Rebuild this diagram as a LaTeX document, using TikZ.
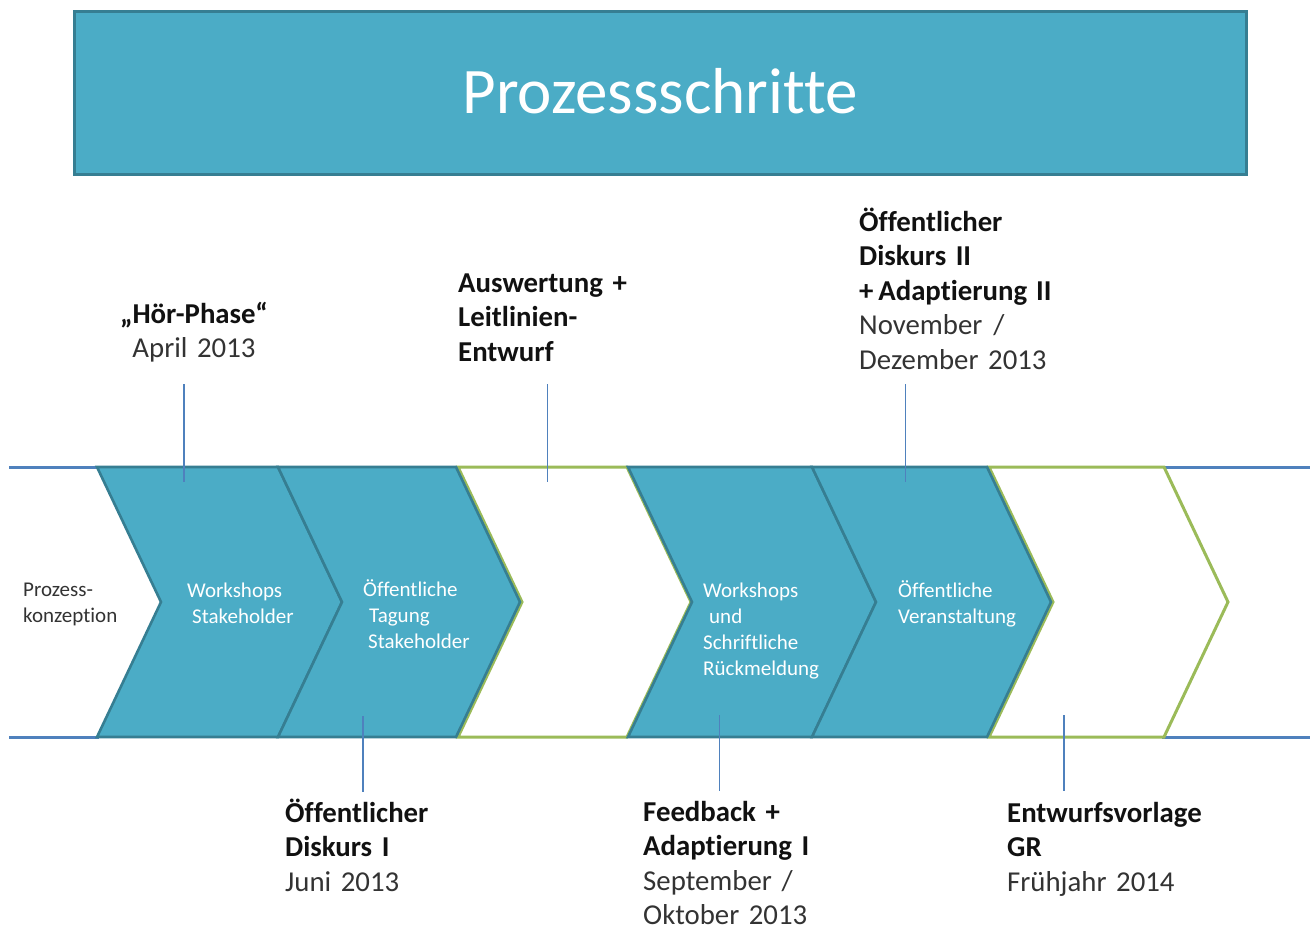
\documentclass[tikz,border=0pt]{standalone}
\usepackage{fontspec}
\setmainfont{Carlito}[Ligatures={NoCommon}]
\definecolor{tealfill}{HTML}{4BACC6}
\definecolor{tealdark}{HTML}{367E92}
\definecolor{lineblue}{HTML}{4F81BD}
\definecolor{cgreen}{HTML}{9BBB59}
\definecolor{txtbold}{HTML}{111111}
\definecolor{txtreg}{HTML}{333333}
\begin{document}
\begin{tikzpicture}[x=1pt,y=-1pt,
  chev/.style={fill=tealfill, draw=tealdark, line width=2.6pt, line join=miter},
  gchev/.style={fill=white, draw=cgreen, line width=3pt, line join=miter},
  hline/.style={draw=lineblue, line width=3pt},
  vline/.style={draw=lineblue, line width=1.4pt},
  big/.style={font=\fontsize{28.8}{34.5}\selectfont, text=txtreg, inner sep=0pt, text width=300pt, align=left, anchor=base west},
  small/.style={font=\fontsize{21}{26}\selectfont, inner sep=0pt, text width=200pt, align=left, anchor=base west},
]
\useasboundingbox (0,0) rectangle (1316,929);

% title
\node[draw=tealdark, fill=tealfill, line width=3pt, minimum width=1172pt, minimum height=163pt, inner sep=0pt] (title) at (660,92.5) {};
\node[font=\fontsize{65}{72}\selectfont, text=white, anchor=base, inner sep=0pt] (titletext) at (660,113) {Prozessschritte};

% blue lines
\draw[hline] (9,467) -- (99,467);
\draw[hline] (9,737) -- (99,737);
\draw[hline] (1162,467) -- (1310,467);
\draw[hline] (1162,737) -- (1310,737);

% green chevrons
\draw[gchev] (458,467) -- (627,467) -- (691,602) -- (627,737) -- (458,737) -- (522,602) -- cycle;
\draw[gchev] (989,467) -- (1164,467) -- (1228,602) -- (1164,737) -- (989,737) -- (1053,602) -- cycle;

% teal chevrons
\draw[chev] (97,467) -- (278,467) -- (342,602) -- (278,737) -- (97,737) -- (161,602) -- cycle;
\draw[chev] (278,467) -- (456,467) -- (520,602) -- (456,737) -- (278,737) -- (342,602) -- cycle;
\draw[chev] (628,467) -- (812,467) -- (876,602) -- (812,737) -- (628,737) -- (692,602) -- cycle;
\draw[chev] (812,467) -- (987,467) -- (1051,602) -- (987,737) -- (812,737) -- (876,602) -- cycle;

% chevron texts
\node[small, text=txtreg] (c0) at (23,596) {Prozess-\\konzeption};
\node[small, text=white] (c1) at (187,597) {Workshops\\\hspace*{5pt}Stakeholder};
\node[small, text=white] (c2) at (363,596) {Öffentliche\\\hspace*{6pt}Tagung\\\hspace*{5pt}Stakeholder};
\node[small, text=white] (c3) at (703,597) {Workshops\\\hspace*{6pt}und\\Schriftliche\\Rückmeldung};
\node[small, text=white] (c4) at (898,597) {Öffentliche\\Veranstaltung};

% labels
\node[big, align=center, anchor=base, text width=260pt] (hoer) at (194,323) {{\bfseries\color{txtbold}„Hör-Phase“}\\April 2013};
\node[big] (ausw) at (458,292) {{\bfseries\color{txtbold}Auswertung +\\Leitlinien-\\Entwurf}};
\node[big] (disk2) at (859,231) {{\bfseries\color{txtbold}Öffentlicher\\Diskurs II\\+\,Adaptierung\hspace{9pt}II}\\November\hspace{11pt}/\\Dezember 2013};
\node[big] (disk1) at (285,822) {{\bfseries\color{txtbold}Öffentlicher\\Diskurs I}\\Juni 2013};
\node[big] (feed) at (643,821) {{\bfseries\color{txtbold}Feedback +\\Adaptierung\ I}\\September /\\Oktober 2013};
\node[big] (entw) at (1007,822) {{\bfseries\color{txtbold}Entwurfsvorlage\\GR}\\Frühjahr 2014};

% connector coordinates
\coordinate (hoerA) at (184,384);  \coordinate (hoerB) at (184,482);
\coordinate (auswA) at (547.5,384); \coordinate (auswB) at (547.5,482);
\coordinate (disk2A) at (905.5,384); \coordinate (disk2B) at (905.5,482);
\coordinate (disk1A) at (363,716); \coordinate (disk1B) at (363,792);
\coordinate (feedA) at (719.5,715); \coordinate (feedB) at (719.5,791);
\coordinate (entwA) at (1064,715); \coordinate (entwB) at (1064,791);

\draw[vline] (hoerA) -- (hoerB);
\draw[vline] (auswA) -- (auswB);
\draw[vline] (disk2A) -- (disk2B);
\draw[vline] (disk1A) -- (disk1B);
\draw[vline] (feedA) -- (feedB);
\draw[vline] (entwA) -- (entwB);
\end{tikzpicture}
\end{document}
